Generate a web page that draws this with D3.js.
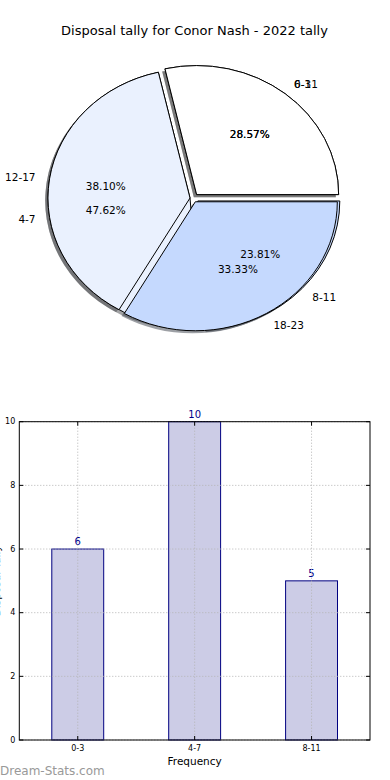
<!DOCTYPE html>
<html>
<head>
<meta charset="utf-8">
<script src="https://cdn.jsdelivr.net/npm/d3@7"></script>
<style>
  html, body { margin: 0; padding: 0; background: #fff; }
  text { font-family: 'DejaVu Sans', sans-serif; }
</style>
</head>
<body>
<script>
// first tally (bins of 4) and the second one drawn over it (bins of 6)
const binsA = ['0-3', '4-7', '8-11'];
const countsA = [6, 10, 5];
const binsB = ['6-11', '12-17', '18-23'];
const countsB = [6, 8, 7];
const yTicks = [0, 2, 4, 6, 8, 10];
const title = 'Disposal tally for Conor Nash - 2022 tally';

const W = 390, H = 780;
const svg = d3.select('body').append('svg').attr('width', W).attr('height', H);

svg.append('text')
  .attr('x', 194.5).attr('y', 30)
  .attr('text-anchor', 'middle').attr('dominant-baseline', 'central')
  .attr('font-size', 13).attr('fill', '#000')
  .text(title);

// ---- pie (elliptical, matplotlib-like: starts at 3 o'clock, counter-clockwise)
const cx = 190, cy = 198, rx = 142, ry = 129;
const explode = [0.075, 0, 0.075];
const explodeSquash = 0.45; // the pulled-out wedges move mostly sideways
const wedgeColors = ['#ffffff', '#eaf1fe', '#c5d9fe'];

const pie = d3.pie().sort(null)
  .startAngle(Math.PI / 2)
  .endAngle(Math.PI / 2 - 2 * Math.PI);
const unitArc = d3.arc().innerRadius(0).outerRadius(1);

function layout(counts, labels) {
  const total = d3.sum(counts);
  return pie(counts).map((a, i) => {
    const theta = Math.PI / 2 - (a.startAngle + a.endAngle) / 2;
    const ox = cx + explode[i] * rx * Math.cos(theta);
    const oy = cy - explode[i] * ry * explodeSquash * Math.sin(theta);
    return { a, i, theta, ox, oy, label: labels[i], pct: (100 * counts[i] / total).toFixed(2) + '%' };
  });
}

const pies = [layout(countsA, binsA), layout(countsB, binsB)];

// shadows sit under every wedge
pies.forEach((wedges) => {
  wedges.forEach((w) => {
    const c = d3.rgb(wedgeColors[w.i]);
    svg.append('path')
      .attr('transform', `translate(${w.ox - 2.8},${w.oy + 2.6}) scale(${rx},${ry})`)
      .attr('d', unitArc(w.a))
      .attr('fill', d3.rgb(c.r * 0.3, c.g * 0.3, c.b * 0.3))
      .attr('opacity', 0.5);
  });
});

pies.forEach((wedges) => {
  wedges.forEach((w) => {
    svg.append('path')
      .attr('transform', `translate(${w.ox},${w.oy}) scale(${rx},${ry})`)
      .attr('d', unitArc(w.a))
      .attr('fill', wedgeColors[w.i])
      .attr('stroke', '#000')
      .attr('stroke-width', 1)
      .attr('vector-effect', 'non-scaling-stroke');
  });
});

pies.forEach((wedges) => {
  wedges.forEach((w) => {
    const c = Math.cos(w.theta), s = Math.sin(w.theta);
    svg.append('text')
      .attr('x', w.ox + 0.6 * rx * c)
      .attr('y', w.oy - 0.6 * ry * s)
      .attr('text-anchor', 'middle').attr('dominant-baseline', 'central')
      .attr('font-size', 10.5)
      .text(w.pct);
    svg.append('text')
      .attr('x', w.ox + 1.1 * rx * c)
      .attr('y', w.oy - 1.1 * ry * s)
      .attr('text-anchor', c > 0 ? 'start' : 'end').attr('dominant-baseline', 'central')
      .attr('font-size', 10.5)
      .text(w.label);
  });
});

// ---- bar chart
const plotL = 19.3, plotR = 370, plotT = 421.7, plotB = 740;
const x = d3.scaleBand().domain(binsA).range([plotL, plotR])
  .paddingInner(0.556).paddingOuter(0.278);
const y = d3.scaleLinear().domain([0, 10]).range([plotB, plotT]);

const bars = svg.append('g');
bars.selectAll('rect').data(countsA).enter().append('rect')
  .attr('x', (d, i) => x(binsA[i]))
  .attr('y', (d) => y(d))
  .attr('width', x.bandwidth())
  .attr('height', (d) => plotB - y(d))
  .attr('fill', '#cccce6')
  .attr('stroke', '#000080')
  .attr('stroke-width', 1);

// grid above bars
const grid = svg.append('g')
  .attr('stroke', '#b4b4b4').attr('stroke-width', 1).attr('stroke-dasharray', '1,2');
yTicks.forEach((t) => {
  grid.append('line').attr('x1', plotL).attr('x2', plotR).attr('y1', y(t)).attr('y2', y(t));
});
binsA.forEach((b) => {
  const xc = x(b) + x.bandwidth() / 2;
  grid.append('line').attr('x1', xc).attr('x2', xc).attr('y1', plotT).attr('y2', plotB);
});

bars.selectAll('text').data(countsA).enter().append('text')
  .attr('x', (d, i) => x(binsA[i]) + x.bandwidth() / 2)
  .attr('y', (d) => y(d) - 4)
  .attr('text-anchor', 'middle')
  .attr('font-size', 10)
  .attr('fill', '#00008b')
  .text((d) => d);

// frame and inward ticks
svg.append('rect')
  .attr('x', plotL).attr('y', plotT).attr('width', plotR - plotL).attr('height', plotB - plotT)
  .attr('fill', 'none').attr('stroke', '#000').attr('stroke-width', 1);

const ticks = svg.append('g').attr('stroke', '#000').attr('stroke-width', 1);
yTicks.forEach((t) => {
  ticks.append('line').attr('x1', plotL).attr('x2', plotL + 4).attr('y1', y(t)).attr('y2', y(t));
  ticks.append('line').attr('x1', plotR - 4).attr('x2', plotR).attr('y1', y(t)).attr('y2', y(t));
  svg.append('text')
    .attr('x', plotL - 4).attr('y', y(t))
    .attr('text-anchor', 'end').attr('dominant-baseline', 'central')
    .attr('font-size', 8)
    .text(t);
});
binsA.forEach((b) => {
  const xc = x(b) + x.bandwidth() / 2;
  ticks.append('line').attr('x1', xc).attr('x2', xc).attr('y1', plotB - 4).attr('y2', plotB);
  ticks.append('line').attr('x1', xc).attr('x2', xc).attr('y1', plotT).attr('y2', plotT + 4);
  svg.append('text')
    .attr('x', xc).attr('y', plotB + 8)
    .attr('text-anchor', 'middle').attr('dominant-baseline', 'central')
    .attr('font-size', 8)
    .text(b);
});

svg.append('text')
  .attr('x', (plotL + plotR) / 2).attr('y', 761)
  .attr('text-anchor', 'middle').attr('dominant-baseline', 'central')
  .attr('font-size', 10.5)
  .text('Frequency');

// y label is mostly off the left edge in the reference
svg.append('text')
  .attr('transform', `translate(-4,${(plotT + plotB) / 2}) rotate(-90)`)
  .attr('text-anchor', 'middle').attr('dominant-baseline', 'central')
  .attr('font-size', 10.5)
  .text('Disposal Tally');

svg.append('text')
  .attr('x', 0).attr('y', 771)
  .attr('dominant-baseline', 'central')
  .attr('font-size', 12)
  .attr('fill', '#999999')
  .text('Dream-Stats.com');
</script>
</body>
</html>
